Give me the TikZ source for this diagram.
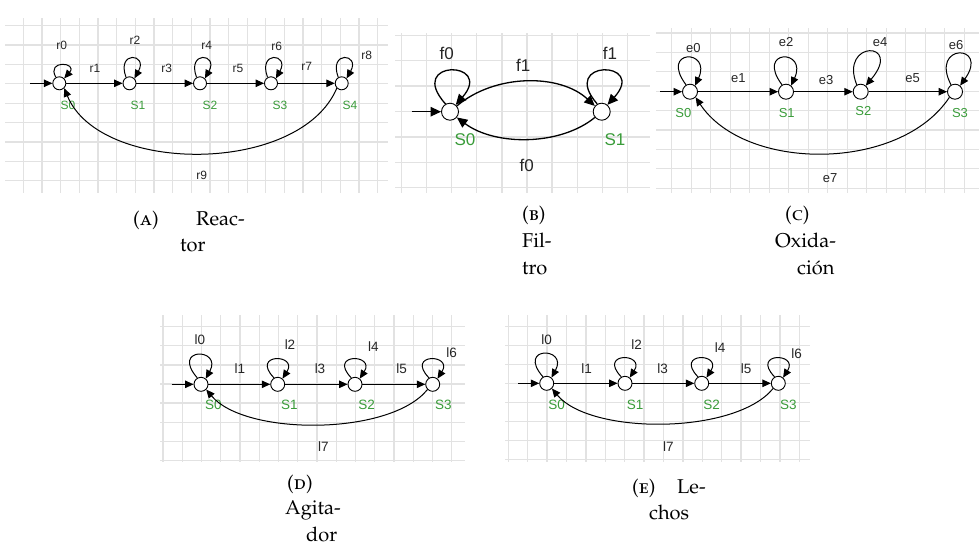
\documentclass[tikz,border=0pt]{standalone}
\usepackage{fontspec}
\newfontfamily\diagfont{Liberation Sans}
\usepackage[T1]{fontenc}
\usepackage[sc]{mathpazo}
\usetikzlibrary{arrows.meta}
\definecolor{sgreen}{RGB}{58,156,58}
\definecolor{gridgray}{RGB}{226,226,226}

\begin{document}
\begin{tikzpicture}[x=1pt,y=-1pt,
  gridln/.style={draw=gridgray, line width=1.3pt},
  stnode/.style={circle, draw=black, fill=white, inner sep=0pt, line width=0.9pt},
  tr/.style={draw=black, line width=1pt, -{Triangle[length=8.5pt,width=7.5pt]}},
  trbig/.style={draw=black, line width=1.3pt, -{Triangle[length=10.5pt,width=9.5pt]}},
  lab/.style={inner sep=0pt, text=black!85, font=\diagfont\fontsize{#1}{#1}\selectfont},
  slab/.style={inner sep=0pt, text=sgreen, font=\diagfont\fontsize{#1}{#1}\selectfont},
  captext/.style={inner sep=0pt, anchor=base west, font=\fontsize{20}{24}\selectfont}]

\useasboundingbox (0,0) rectangle (979,550);
\fill[white] (0,0) rectangle (979,550);

% ---------- grid backgrounds ----------
\begin{scope}
  \clip (5,18) rectangle (388,193);
  \foreach \x in {4.7,23.35,...,390} \draw[gridln] (\x,18) -- (\x,193);
  \foreach \y in {6.2,25.6,...,195} \draw[gridln] (5,\y) -- (388,\y);
\end{scope}
\begin{scope}
  \clip (395,33) rectangle (650,193);
  \foreach \x in {401.5,426.6,...,652} \draw[gridln] (\x,33) -- (\x,193);
  \foreach \y in {35.3,60.7,...,195} \draw[gridln] (395,\y) -- (650,\y);
\end{scope}
\begin{scope}
  \clip (656,28) rectangle (979,193);
  \foreach \x in {652.2,671.7,...,981} \draw[gridln] (\x,28) -- (\x,193);
  \foreach \y in {13.6,33,...,195} \draw[gridln] (656,\y) -- (979,\y);
\end{scope}
\begin{scope}
  \clip (160,315) rectangle (465,462);
  \foreach \x in {163,182.25,...,467} \draw[gridln] (\x,315) -- (\x,462);
  \foreach \y in {307.6,326.7,...,464} \draw[gridln] (160,\y) -- (465,\y);
\end{scope}
\begin{scope}
  \clip (505,315) rectangle (810,462);
  \foreach \x in {508.3,527.7,...,812} \draw[gridln] (\x,315) -- (\x,462);
  \foreach \y in {307.7,326.7,...,464} \draw[gridln] (505,\y) -- (810,\y);
\end{scope}

% ---------- Reactor ----------
\foreach \n/\x in {0/59.3,1/129.5,2/200,3/271,4/341.7}
  \node[stnode, minimum size=13pt] (a\n) at (\x,83.3) {};
\foreach \n/\x in {0/68,1/138,2/210,3/280,4/350}
  \node[slab=12] (as\n) at (\x,105) {S\n};
\coordinate (ainit) at (30,83.3);
\draw[tr] (ainit) -- (a0);
\draw[tr] (a0) -- (a1);
\draw[tr] (a1) -- (a2);
\draw[tr] (a2) -- (a3);
\draw[tr] (a3) -- (a4);
\draw[tr] (a0.120) .. controls +(-10,-18) and +(14,-16) .. (a0.45);
\foreach \n in {1,2,3,4}
  \draw[tr] (a\n.120) .. controls +(-10,-27) and +(14,-25) .. (a\n.45);
\draw[tr] (a4.225) .. controls (300,175) and (100,175) .. (a0.315);
\node[lab=12] (r0) at (61.7,45) {r0};
\node[lab=12] (r2) at (135,40) {r2};
\node[lab=12] (r4) at (206.7,45) {r4};
\node[lab=12] (r6) at (276.7,46.7) {r6};
\node[lab=12] (r8) at (366.7,55) {r8};
\node[lab=12] (r1) at (95,68.3) {r1};
\node[lab=12] (r3) at (166.7,68.3) {r3};
\node[lab=12] (r5) at (238,68.3) {r5};
\node[lab=12] (r7) at (306.7,66.7) {r7};
\node[lab=12] (r9) at (201.7,175) {r9};

% ---------- Filtro ----------
\node[stnode, minimum size=17pt] (b0) at (450,111.7) {};
\node[stnode, minimum size=17pt] (b1) at (601.7,111.7) {};
\node[slab=17] (bs0) at (465,140) {S0};
\node[slab=17] (bs1) at (615,140) {S1};
\coordinate (binit) at (411.7,111.7);
\draw[trbig] (binit) -- (b0);
\draw[trbig] (b0.120) .. controls (405,59) and (495,60) .. (b0.50);
\draw[trbig] (b1.120) .. controls (558,59) and (648,60) .. (b1.50);
\draw[trbig] (b0.40) .. controls (495,73.5) and (560,73.5) .. (b1.140);
\draw[trbig] (b1.220) .. controls (560,146) and (495,146) .. (b0.320);
\node[lab=17] (f0a) at (446.7,53.3) {f0};
\node[lab=17] (f1a) at (610,53.3) {f1};
\node[lab=17] (f1b) at (523.3,65) {f1};
\node[lab=17] (f0b) at (526.7,165) {f0};

% ---------- Oxidacion ----------
\foreach \n/\x in {0/690,1/786,2/860.7,3/955}
  \node[stnode, minimum size=15pt] (c\n) at (\x,91.7) {};
\node[slab=13] (cs0) at (683.3,113.3) {S0};
\node[slab=13] (cs1) at (786.7,113.3) {S1};
\node[slab=13] (cs2) at (863.3,111) {S2};
\node[slab=13] (cs3) at (960,113.3) {S3};
\coordinate (cinit) at (660,91.7);
\draw[tr] (cinit) -- (c0);
\draw[tr] (c0) -- (c1);
\draw[tr] (c1) -- (c2);
\draw[tr] (c2) -- (c3);
\draw[tr] (c0.120) .. controls +(-27,-36) and +(17,-37) .. (c0.50);
\draw[tr] (c1.120) .. controls +(-27,-36) and +(17,-37) .. (c1.50);
\draw[tr] (c2.120) .. controls +(-18,-45) and +(38,-45) .. (c2.50);
\draw[tr] (c3.120) .. controls +(-22,-42) and +(30,-42) .. (c3.50);
\draw[tr] (c3.225) .. controls (900,172) and (745,172) .. (c0.315);
\node[lab=13] (e0) at (693.3,48.3) {e0};
\node[lab=13] (e2) at (786,41.7) {e2};
\node[lab=13] (e4) at (880,41.7) {e4};
\node[lab=13] (e6) at (956,45) {e6};
\node[lab=13] (e1) at (738.3,77.7) {e1};
\node[lab=13] (e3) at (826,80) {e3};
\node[lab=13] (e5) at (912.7,77.7) {e5};
\node[lab=13] (e7) at (830,178.3) {e7};

% ---------- Agitador ----------
\foreach \n/\x in {0/201,1/277.7,2/355,3/432.7}
  \node[stnode, minimum size=14pt] (d\n) at (\x,384.3) {};
\node[slab=13.5] (ds0) at (213.3,405) {S0};
\node[slab=13.5] (ds1) at (289.3,405) {S1};
\node[slab=13.5] (ds2) at (366.7,405) {S2};
\node[slab=13.5] (ds3) at (443.3,405) {S3};
\coordinate (dinit) at (171.7,384.3);
\draw[tr] (dinit) -- (d0);
\draw[tr] (d0) -- (d1);
\draw[tr] (d1) -- (d2);
\draw[tr] (d2) -- (d3);
\draw[tr] (d0.120) .. controls +(-27,-31) and +(17,-31) .. (d0.50);
\foreach \n in {1,2,3}
  \draw[tr] (d\n.120) .. controls +(-24,-25) and +(16,-25) .. (d\n.50);
\draw[tr] (d3.225) .. controls (390,436) and (245,436) .. (d0.315);
\node[lab=13.5] (dl0) at (200,340) {l0};
\node[lab=13.5] (dl2) at (290,344.3) {l2};
\node[lab=13.5] (dl4) at (373.3,346.7) {l4};
\node[lab=13.5] (dl6) at (451.7,352.3) {l6};
\node[lab=13.5] (dl1) at (240,368.3) {l1};
\node[lab=13.5] (dl3) at (320,368.3) {l3};
\node[lab=13.5] (dl5) at (401.7,368.3) {l5};
\node[lab=13.5] (dl7) at (323.3,446.7) {l7};

% ---------- Lechos ----------
\foreach \n/\x in {0/546.7,1/625,2/701.7,3/778.3}
  \node[stnode, minimum size=14pt] (e\n) at (\x,383.3) {};
\node[slab=13.5] (es0) at (556.7,405) {S0};
\node[slab=13.5] (es1) at (635,405) {S1};
\node[slab=13.5] (es2) at (711.7,405) {S2};
\node[slab=13.5] (es3) at (788.3,405) {S3};
\coordinate (einit) at (518.3,383.3);
\draw[tr] (einit) -- (e0);
\draw[tr] (e0) -- (e1);
\draw[tr] (e1) -- (e2);
\draw[tr] (e2) -- (e3);
\draw[tr] (e0.120) .. controls +(-27,-31) and +(17,-31) .. (e0.50);
\foreach \n in {1,2,3}
  \draw[tr] (e\n.120) .. controls +(-24,-25) and +(16,-25) .. (e\n.50);
\draw[tr] (e3.225) .. controls (735,435) and (590,435) .. (e0.315);
\node[lab=13.5] (el0) at (546.7,340) {l0};
\node[lab=13.5] (el2) at (636.7,345) {l2};
\node[lab=13.5] (el4) at (720,347.7) {l4};
\node[lab=13.5] (el6) at (796.7,353.3) {l6};
\node[lab=13.5] (el1) at (586.7,368.3) {l1};
\node[lab=13.5] (el3) at (662.7,368.3) {l3};
\node[lab=13.5] (el5) at (746,368.3) {l5};
\node[lab=13.5] (el7) at (668.3,446.7) {l7};

% ---------- captions ----------
\node[captext] (capa1) at (133,225) {(\textsc{a})};
\node[captext] (capa2) at (196,225) {Reac-};
\node[captext] (capa3) at (180,251) {tor};
\node[captext] (capb1) at (522,220) {(\textsc{b})};
\node[captext] (capb2) at (522,247) {Fil-};
\node[captext] (capb3) at (522,274) {tro};
\node[captext] (capc1) at (785,220) {(\textsc{c})};
\node[captext] (capc2) at (775,247) {Oxida-};
\node[captext] (capc3) at (797,274) {ci\'on};
\node[captext] (capd1) at (287,489) {(\textsc{d})};
\node[captext] (capd2) at (285,514) {Agita-};
\node[captext] (capd3) at (306,541) {dor};
\node[captext] (cape1) at (632,493) {(\textsc{e})};
\node[captext] (cape2) at (677,493) {Le-};
\node[captext] (cape3) at (649,519) {chos};

\end{tikzpicture}
\end{document}
